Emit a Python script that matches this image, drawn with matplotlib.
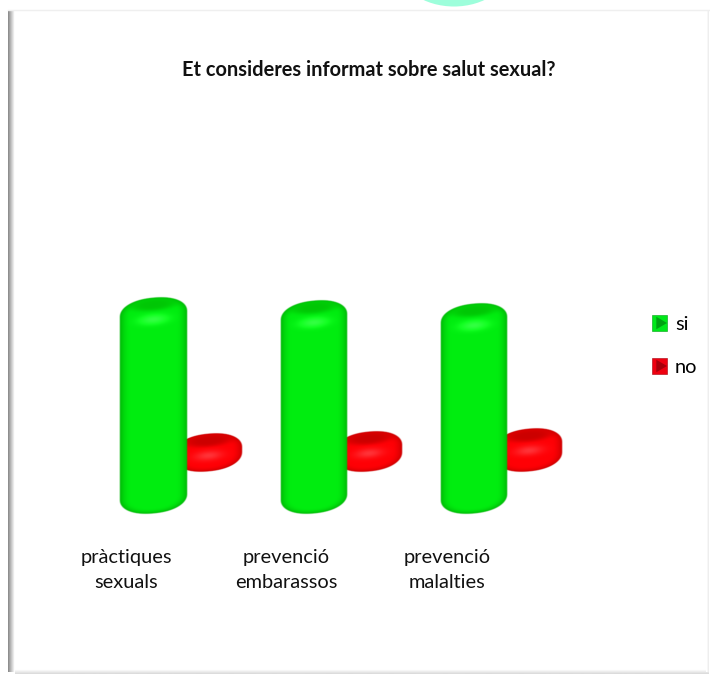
import matplotlib
matplotlib.use("Agg")
import matplotlib.pyplot as plt
import numpy as np
from matplotlib.legend_handler import HandlerPatch
from matplotlib.patches import Ellipse, Patch, Polygon

plt.rcParams["font.family"] = ["Lato", "DejaVu Sans"]

categories = ["pràctiques\nsexuals", "prevenció\nembarassos", "prevenció\nmalalties"]
si_values = [85, 84, 83]
no_values = [15, 16, 17]

W, H = 710, 675
AX_LEFT, AX_RIGHT, AX_TOP, AX_BOTTOM = 46, 607, 120, 514
PX_X = 160.5   # pixels per category
PX_Y = 2.54    # pixels per value unit
RADIUS = 34
DEPTH = 42     # red row sits further back
SI_SHIFT = 27 / PX_X
NO_SHIFT = 82 / PX_X

GREEN = {"main": (0.0, 0.93, 0.06), "edge": (0.0, 0.70, 0.02), "cap": (0.0, 0.78, 0.02)}
RED = {"main": (1.0, 0.0, 0.02), "edge": (0.78, 0.0, 0.0), "cap": (0.80, 0.0, 0.0)}


def draw_cylinder(ax, xc, base, value, col, z):
    # soft rounded cylinder, shaded on a pixel grid and placed in data coords
    height = value * PX_Y
    ry, tilt, n = min(17.0, height / 2), 0.09, 2.2
    margin = RADIUS * tilt + 3
    xs = np.linspace(-RADIUS - 2, RADIUS + 2, 2 * (2 * RADIUS + 4))
    ys = np.linspace(-margin, height + margin, int(2 * (height + 2 * margin)))
    X, Y = np.meshgrid(xs, ys)
    Yt = Y - tilt * X
    dy = np.maximum(0, np.maximum(ry - Yt, Yt - (height - ry))) / ry
    r = (np.abs(X / RADIUS) ** n + dy ** n) ** (1 / n)

    shade = np.clip((r - 0.65) / 0.35, 0, 1) ** 2
    cap = np.exp(-((X / (RADIUS * 0.7)) ** 2 + ((Yt - (height - ry * 0.42)) / (ry * 0.36)) ** 2) ** 2)
    glow = 0.2 * np.exp(-((X / (RADIUS * 0.4)) ** 2 + ((Yt - (height - ry * 1.3)) / (ry * 0.28)) ** 2))

    img = np.zeros(X.shape + (4,))
    for i in range(3):
        c = col["main"][i] * (1 - shade) + col["edge"][i] * shade
        c = c * (1 - cap) + col["cap"][i] * cap
        img[..., i] = np.clip(c + glow * (1 - cap), 0, 1)
    img[..., 3] = np.clip((1 - r) * RADIUS * 0.9, 0, 1)

    ext = (xc + xs[0] / PX_X, xc + xs[-1] / PX_X, base + ys[0] / PX_Y, base + ys[-1] / PX_Y)
    ax.imshow(img, extent=ext, origin="lower", aspect="auto", zorder=z,
              interpolation="bilinear", clip_on=False)


class BevelHandler(HandlerPatch):
    # small bevelled legend square
    def create_artists(self, legend, orig, xd, yd, w, h, fs, trans):
        s = 11
        x0, y0 = w - s - xd, (h - s) / 2 - yd
        dark = tuple(v * 0.7 for v in orig.get_facecolor()[:3])
        sq = Polygon([(x0, y0), (x0 + s, y0), (x0 + s, y0 + s), (x0, y0 + s)],
                     facecolor=orig.get_facecolor(), edgecolor=dark, linewidth=0.4, transform=trans)
        wedge = Polygon([(x0 + s, y0 + s / 2), (x0 + s * 0.3, y0 + s - 1), (x0 + s * 0.3, y0 + 1)],
                        facecolor=dark, edgecolor="none", transform=trans)
        return [sq, wedge]


fig = plt.figure(figsize=(W / 100, H / 100), dpi=100, facecolor="white")

# page frame in pixel coordinates
bg = fig.add_axes([0, 0, 1, 1], zorder=0)
bg.axis("off")
bg.add_patch(Ellipse((454, -34), 112, 81, facecolor="#9dfedb", edgecolor="none"))
bg.plot([8, 709], [9.5, 9.5], color="#efefef", lw=1)
bg.imshow(np.linspace(0.55, 1, 8)[None, :], extent=(8, 15, 672, 10), cmap="gray", vmin=0, vmax=1,
          aspect="auto", interpolation="bilinear")
bg.imshow(np.linspace(1, 0.86, 5)[:, None], extent=(15, 709, 674, 669), cmap="gray", vmin=0, vmax=1,
          aspect="auto", interpolation="bilinear")
bg.imshow(np.linspace(1, 0.93, 3)[None, :], extent=(706, 709, 672, 10), cmap="gray", vmin=0, vmax=1,
          aspect="auto")
bg.set_xlim(0, W)
bg.set_ylim(H, 0)

ax = fig.add_axes([AX_LEFT / W, 1 - AX_BOTTOM / H, (AX_RIGHT - AX_LEFT) / W, (AX_BOTTOM - AX_TOP) / H], zorder=1)
ax.patch.set_alpha(0)

for i in range(len(categories)):
    draw_cylinder(ax, i + NO_SHIFT, DEPTH / PX_Y, no_values[i], RED, 2)
    draw_cylinder(ax, i + SI_SHIFT, 0, si_values[i], GREEN, 3)

x0 = -(126 - AX_LEFT) / PX_X
ax.set_xlim(x0, x0 + (AX_RIGHT - AX_LEFT) / PX_X)
ax.set_ylim(0, (AX_BOTTOM - AX_TOP) / PX_Y)
ax.set_xticks(range(len(categories)))
ax.set_xticklabels(categories, fontsize=14.4, linespacing=1.55, color="#111111")
ax.tick_params(axis="x", length=0, pad=25.5)
ax.set_yticks([])
for s in ax.spines.values():
    s.set_visible(False)

fig.text(369 / W, 1 - 70 / H, "Et consideres informat sobre salut sexual?", ha="center", va="center",
         fontsize=14.4, fontweight="bold", color="#111111")

handles = [Patch(facecolor="#00e81a", label="si"), Patch(facecolor="#ee0010", label="no")]
fig.legend(handles=handles, loc="center left", bbox_to_anchor=(651 / W, 1 - 346 / H), frameon=False,
           fontsize=14.4, labelspacing=1.3, handlelength=0.8, handletextpad=0.4, borderpad=0, borderaxespad=0,
           handler_map={Patch: BevelHandler()})

fig.savefig("out.png", dpi=100)
